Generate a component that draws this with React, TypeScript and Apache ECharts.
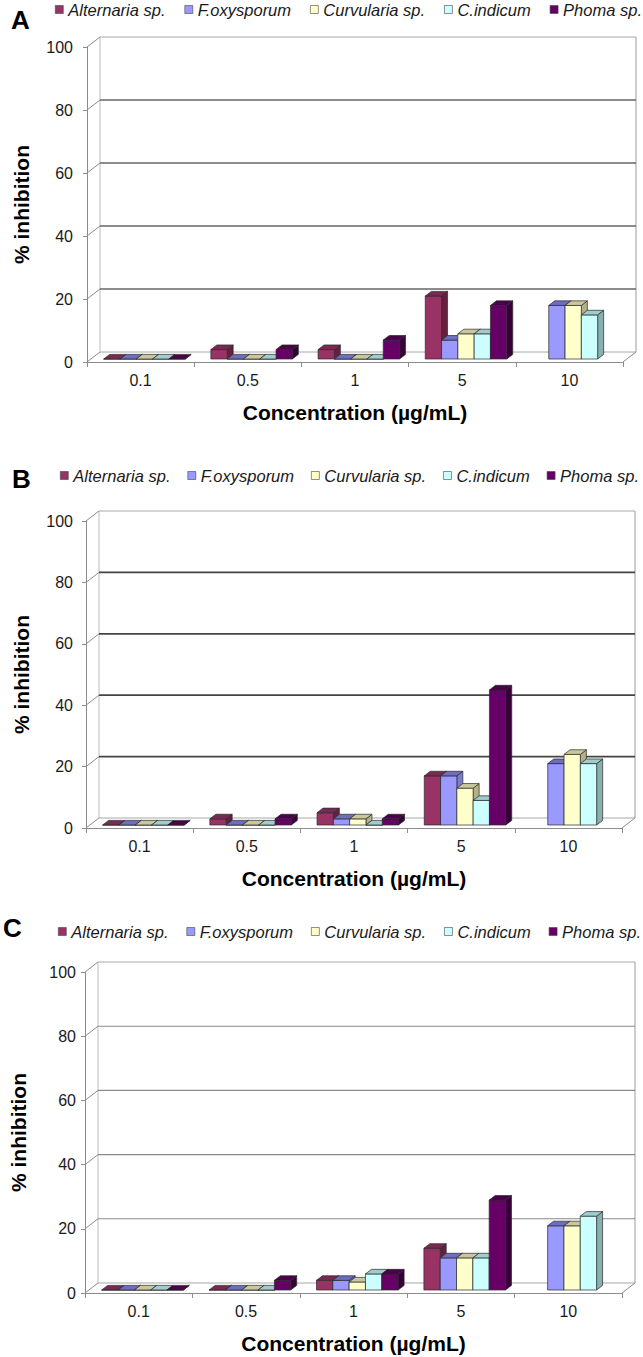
import React, { useEffect, useRef } from "react";
import * as echarts from "echarts";

// ---------- data ----------
const CATEGORIES = ["0.1", "0.5", "1", "5", "10"];
const SPECIES = ["Alternaria sp.", "F.oxysporum", "Curvularia sp.", "C.indicum", "Phoma sp."];
const Y_TICKS = [0, 20, 40, 60, 80, 100];

// Panel A
const A_ALTERNARIA = [0, 3, 3, 20, null];
const A_FOXYSPORUM = [0, 0, 0, 6, 17];
const A_CURVULARIA = [0, 0, 0, 8, 17];
const A_CINDICUM = [0, 0, 0, 8, 14];
const A_PHOMA = [0, 3, 6, 17, null];

// Panel B
const B_ALTERNARIA = [0, 2, 4, 16, null];
const B_FOXYSPORUM = [0, 0, 2, 16, 20];
const B_CURVULARIA = [0, 0, 2, 12, 23];
const B_CINDICUM = [0, 0, 0, 8, 20];
const B_PHOMA = [0, 2, 2, 44, null];

// Panel C
const C_ALTERNARIA = [0, 0, 3, 13, null];
const C_FOXYSPORUM = [0, 0, 3, 10, 20];
const C_CURVULARIA = [0, 0, 2.5, 10, 20];
const C_CINDICUM = [0, 0, 5, 10, 23];
const C_PHOMA = [0, 3, 5, 28, null];

const PANEL_A = [A_ALTERNARIA, A_FOXYSPORUM, A_CURVULARIA, A_CINDICUM, A_PHOMA];
const PANEL_B = [B_ALTERNARIA, B_FOXYSPORUM, B_CURVULARIA, B_CINDICUM, B_PHOMA];
const PANEL_C = [C_ALTERNARIA, C_FOXYSPORUM, C_CURVULARIA, C_CINDICUM, C_PHOMA];

// ---------- styles ----------
const FRONT = ["#993366", "#9999FF", "#FFFFCC", "#CCFFFF", "#660066"];
const TOP = ["#7a2952", "#6d6dc2", "#cbc79c", "#9fcccc", "#4a004a"];
const SIDE = ["#66203f", "#7b7bcf", "#b4b08a", "#88b0b0", "#380038"];
const FONT = "Liberation Sans, Arial, sans-serif";
const DEPTH_X = 13;
const DEPTH_Y = -10;

const LAYOUT = [
  {
    letter: "A",
    data: PANEL_A,
    grid: { left: 87, top: 47, width: 536, height: 315 },
    legend: { left: 55, top: 1, gap: 19 },
    letterPos: [11, 20],
    labelMargin: 14,
    nameGapY: 55,
    gridColor: "#666666",
    gridWidth: 1.3,
  },
  {
    letter: "B",
    data: PANEL_B,
    grid: { left: 86, top: 521, width: 536, height: 307 },
    legend: { left: 60, top: 467, gap: 17 },
    letterPos: [12, 479],
    labelMargin: 13,
    nameGapY: 54,
    gridColor: "#444444",
    gridWidth: 1.7,
  },
  {
    letter: "C",
    data: PANEL_C,
    grid: { left: 77, top: 972, width: 545, height: 321 },
    legend: { left: 58, top: 923, gap: 18 },
    letterPos: [3, 928],
    labelMargin: 9,
    nameGapY: 56,
    gridColor: "#8a8a8a",
    gridWidth: 1.1,
  },
];

function frameRenderer(gridColor: string, gridWidth: number) {
  return (params: any, api: any) => {
    const cs = params.coordSys;
    const v = api.value(1);
    const y = api.coord([0, v])[1];
    const yTop = api.coord([0, Y_TICKS[Y_TICKS.length - 1]])[1];
    const xL = cs.x;
    const xR = cs.x + cs.width;
    const children: any[] = [];
    const isEdge = v === Y_TICKS[0] || v === Y_TICKS[Y_TICKS.length - 1];
    children.push({
      type: "line",
      shape: { x1: xL, y1: y, x2: xL + DEPTH_X, y2: y + DEPTH_Y },
      style: { stroke: "#8c8c8c", lineWidth: 1 },
    });
    children.push({
      type: "line",
      shape: { x1: xL + DEPTH_X, y1: y + DEPTH_Y, x2: xR + DEPTH_X, y2: y + DEPTH_Y },
      style: { stroke: isEdge ? "#a8a8a8" : gridColor, lineWidth: isEdge ? 1 : gridWidth },
    });
    if (v === Y_TICKS[0]) {
      children.push({
        type: "line",
        shape: { x1: xL + DEPTH_X, y1: y + DEPTH_Y, x2: xL + DEPTH_X, y2: yTop + DEPTH_Y },
        style: { stroke: "#bdbdbd", lineWidth: 1 },
      });
      children.push({
        type: "line",
        shape: { x1: xR + DEPTH_X, y1: y + DEPTH_Y, x2: xR + DEPTH_X, y2: yTop + DEPTH_Y },
        style: { stroke: "#9a9a9a", lineWidth: 1 },
      });
      children.push({
        type: "line",
        shape: { x1: xR, y1: y, x2: xR + DEPTH_X, y2: y + DEPTH_Y },
        style: { stroke: "#8c8c8c", lineWidth: 1 },
      });
    }
    return { type: "group", children };
  };
}

function barRenderer(k: number) {
  return (params: any, api: any) => {
    const ci = api.value(0);
    const v = api.value(1);
    if (v == null || isNaN(v)) return null;
    const c = api.coord([ci, v]);
    const c0 = api.coord([ci, 0]);
    const cw = api.size([1, 0])[0];
    const bw = cw * 0.152;
    const sx = 3.8;
    const sy = -3;
    const dx = 6;
    const dy = -4.6;
    const x0 = c[0] - 2.5 * bw + k * bw + sx;
    const x1 = x0 + bw;
    const yb = c0[1] + sy;
    const yt = c[1] + sy;
    const stroke = { stroke: "#2a2a2a", lineWidth: 0.7, lineJoin: "round" };
    return {
      type: "group",
      children: [
        {
          type: "polygon",
          shape: { points: [[x1, yt], [x1 + dx, yt + dy], [x1 + dx, yb + dy], [x1, yb]] },
          style: { fill: SIDE[k], ...stroke },
        },
        {
          type: "polygon",
          shape: { points: [[x0, yt], [x1, yt], [x1, yb], [x0, yb]] },
          style: { fill: FRONT[k], ...stroke },
        },
        {
          type: "polygon",
          shape: { points: [[x0, yt], [x0 + dx, yt + dy], [x1 + dx, yt + dy], [x1, yt]] },
          style: { fill: TOP[k], ...stroke },
        },
      ],
    };
  };
}

function buildOption() {
  const grid: any[] = [];
  const xAxis: any[] = [];
  const yAxis: any[] = [];
  const legend: any[] = [];
  const series: any[] = [];
  const graphic: any[] = [];

  LAYOUT.forEach((p, gi) => {
    grid.push({ ...p.grid, containLabel: false });
    xAxis.push({
      type: "category",
      gridIndex: gi,
      data: CATEGORIES,
      boundaryGap: true,
      axisLine: { show: true, lineStyle: { color: "#8c8c8c", width: 1 } },
      axisTick: { show: true, length: 5, alignWithLabel: false, lineStyle: { color: "#8c8c8c" } },
      axisLabel: { fontSize: 16, color: "#1a1a1a", fontFamily: FONT, margin: 10 },
      splitLine: { show: false },
      name: "Concentration (µg/mL)",
      nameLocation: "middle",
      nameGap: 40,
      nameTextStyle: { fontSize: 21, fontWeight: "bold", color: "#000", fontFamily: FONT },
    });
    yAxis.push({
      type: "value",
      gridIndex: gi,
      min: 0,
      max: 100,
      interval: 20,
      axisLine: { show: true, lineStyle: { color: "#8c8c8c", width: 1 } },
      axisTick: { show: true, length: 4, lineStyle: { color: "#8c8c8c" } },
      axisLabel: { fontSize: 16, color: "#1a1a1a", fontFamily: FONT, margin: p.labelMargin },
      splitLine: { show: false },
      name: "% inhibition",
      nameLocation: "middle",
      nameRotate: 90,
      nameGap: p.nameGapY,
      nameTextStyle: { fontSize: 21, fontWeight: "bold", color: "#000", fontFamily: FONT },
    });
    legend.push({
      data: SPECIES,
      left: p.legend.left,
      top: p.legend.top,
      width: 640,
      padding: 0,
      itemGap: p.legend.gap,
      itemWidth: 8,
      itemHeight: 8,
      icon: "rect",
      selectedMode: false,
      itemStyle: { borderColor: "#444", borderWidth: 0.6 },
      textStyle: { fontSize: 16.5, fontStyle: "italic", color: "#1a1a1a", fontFamily: FONT },
    });
    graphic.push({
      type: "text",
      x: p.letterPos[0],
      y: p.letterPos[1],
      style: {
        text: p.letter,
        fontSize: 26,
        fontWeight: "bold",
        fontFamily: FONT,
        fill: "#000",
        verticalAlign: "middle",
      },
    });
    series.push({
      type: "custom",
      name: "frame" + gi,
      xAxisIndex: gi,
      yAxisIndex: gi,
      z: 1,
      silent: true,
      data: Y_TICKS.map((v) => [0, v]),
      renderItem: frameRenderer(p.gridColor, p.gridWidth),
    });
    p.data.forEach((vals, k) => {
      series.push({
        type: "custom",
        name: SPECIES[k],
        xAxisIndex: gi,
        yAxisIndex: gi,
        z: 3 + k,
        silent: true,
        itemStyle: { color: FRONT[k] },
        data: vals
          .map((v, i) => (v == null ? null : [i, v]))
          .filter((d) => d !== null),
        renderItem: barRenderer(k),
      });
    });
  });

  return {
    animation: false,
    backgroundColor: "#ffffff",
    grid,
    xAxis,
    yAxis,
    legend,
    series,
    graphic,
  };
}

export default function App() {
  const ref = useRef<HTMLDivElement>(null);
  useEffect(() => {
    document.body.style.margin = "0";
    const chart = echarts.init(ref.current as HTMLDivElement, null, { renderer: "svg" });
    chart.setOption(buildOption() as any);
    return () => {
      chart.dispose();
    };
  }, []);
  return <div ref={ref} style={{ width: 643, height: 1357 }} />;
}
